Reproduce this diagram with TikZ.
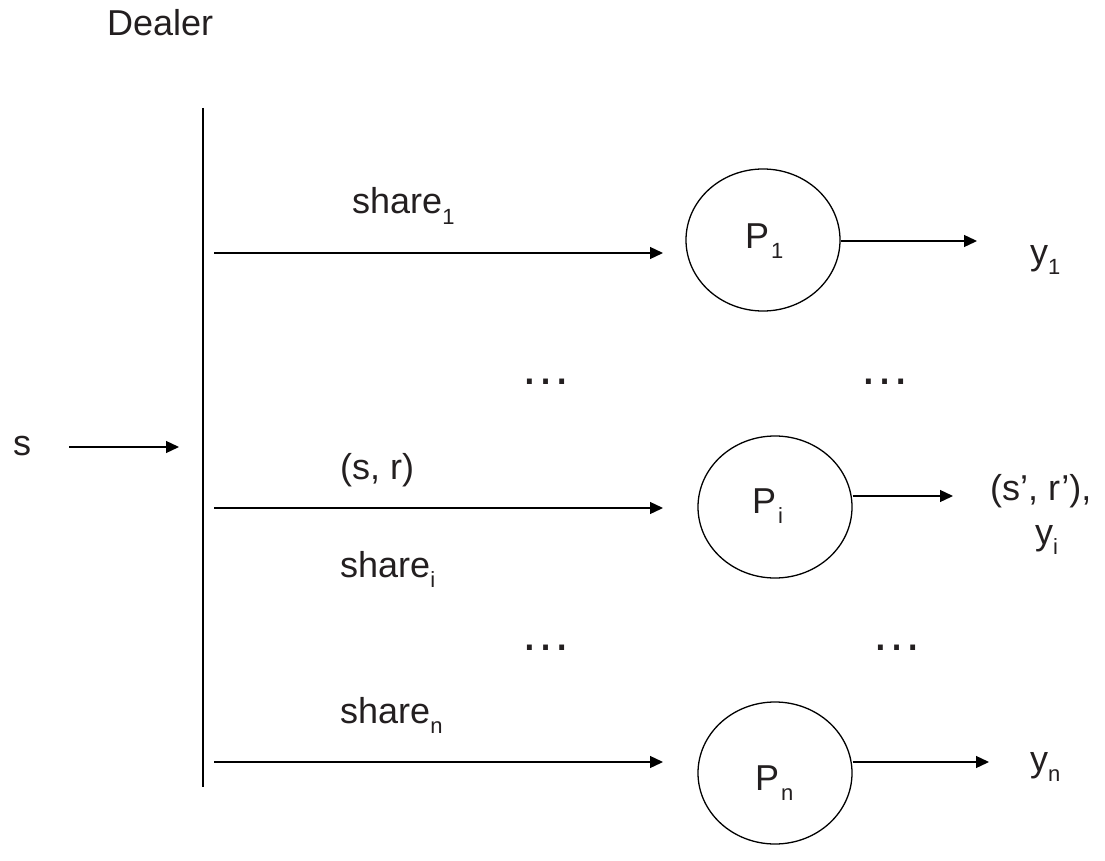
\documentclass[tikz,border=0pt]{standalone}
\usepackage{fontspec}
\setmainfont{Liberation Sans}
\usetikzlibrary{arrows.meta,shapes.geometric}
\newcommand\sbs[1]{\raisebox{-10pt}{\fontsize{22}{22}\selectfont #1}}
\definecolor{ink}{HTML}{231F20}
\tikzset{
  lbl/.style={anchor=base west,inner sep=0pt,text=ink,font=\fontsize{36}{42}\selectfont},
  dotsl/.style={anchor=base,inner sep=0pt,text=ink,font=\fontsize{51}{56}\selectfont},
  party/.style={ellipse,draw,line width=1.3pt,minimum width=154pt,minimum height=142pt,inner sep=0pt},
  arr/.style={line width=1.3pt,-{Triangle[length=13pt,width=12pt]}},
  plain/.style={line width=1.3pt}
}
\begin{document}
\begin{tikzpicture}[x=1pt,y=-1pt]
\useasboundingbox (0,0) rectangle (1105,861);
% dealer line
\coordinate (dtop) at (203,108);
\coordinate (dbot) at (203,787);
\draw[plain] (dtop) -- (dbot);
\node[lbl] (dealer) at (107,36) {Dealer};
% secret input
\node[lbl] (s) at (13,455) {s};
\coordinate (sa) at (69,447);
\coordinate (sb) at (179,447);
\draw[arr] (sa) -- (sb);
% parties
\node[party] (P1) at (763,240) {};
\node[party] (Pi) at (775,507) {};
\node[party] (Pn) at (775,773) {};
\node[lbl] (P1t) at (745,248) {P\kern2pt\sbs{1}};
\node[lbl] (Pit) at (752,513) {P\kern2pt\sbs{i}};
\node[lbl] (Pnt) at (755,790) {P\kern2pt\sbs{n}};
% input arrows
\coordinate (a1s) at (214,253); \coordinate (a1e) at (663,253);
\coordinate (ais) at (214,508); \coordinate (aie) at (663,508);
\coordinate (ans) at (214,762); \coordinate (ane) at (663,762);
\draw[arr] (a1s) -- (a1e);
\draw[arr] (ais) -- (aie);
\draw[arr] (ans) -- (ane);
% output arrows
\coordinate (o1e) at (977,241);
\coordinate (oie) at (953,496);
\coordinate (one) at (989,762);
\draw[arr] (P1.east |- o1e) -- (o1e);
\draw[arr] (Pi.east |- oie) -- (oie);
\draw[arr] (Pn.east |- one) -- (one);
% labels
\node[lbl] (sh1) at (352,214) {share\sbs{1}};
\node[lbl] (sr) at (340,479) {(s, r)};
\node[lbl] (shi) at (340,577) {share\sbs{i}};
\node[lbl] (shn) at (340,723) {share\sbs{n}};
\node[lbl] (y1) at (1030,264) {y\sbs{1}};
\node[lbl] (srp) at (990,500) {(s’, r’),};
\node[lbl] (yi) at (1035,544) {y\sbs{i}};
\node[lbl] (yn) at (1030,771) {y\sbs{n}};
% ellipses
\node[dotsl] (d1) at (546,384) {…};
\node[dotsl] (d2) at (885,384) {…};
\node[dotsl] (d3) at (546,650) {…};
\node[dotsl] (d4) at (897,650) {…};
\end{tikzpicture}
\end{document}
